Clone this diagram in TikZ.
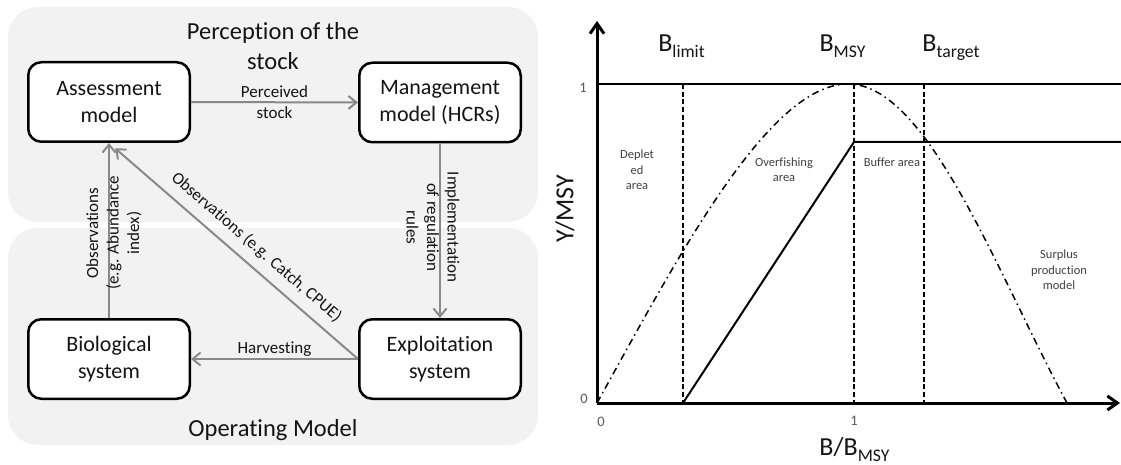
\documentclass[tikz,border=0pt]{standalone}
\usepackage{fontspec}
\setmainfont{Carlito}[Ligatures={NoCommon}]
\usetikzlibrary{arrows.meta,calc}
\definecolor{panel}{RGB}{242,242,242}
\definecolor{arrowgray}{RGB}{137,137,137}
\definecolor{ticktext}{RGB}{89,89,89}
\definecolor{areatext}{RGB}{64,64,64}
\definecolor{maintext}{RGB}{20,20,20}
\newcommand{\lowsub}[1]{\raisebox{-6pt}{\fontsize{17.7}{17.7}\selectfont #1}}
\begin{document}
\begin{tikzpicture}[x=1pt,y=-1pt,
  container/.style={fill=panel, draw=none, rounded corners=30pt, minimum width=530pt, inner sep=0pt},
  paneltitle/.style={align=center, text=maintext, inner sep=0pt, font=\fontsize{24.5}{29.5}\selectfont},
  block/.style={draw=black, line width=2.5pt, fill=white, rounded corners=13pt, minimum width=161.5pt, minimum height=79.5pt, align=center, text=maintext, inner sep=0pt, font=\fontsize{22}{26.8}\selectfont},
  flow/.style={draw=arrowgray, line width=2pt, -{Straight Barb[length=8pt,width=13pt]}},
  lbl/.style={align=center, text=maintext, inner sep=0pt, font=\fontsize{17}{20.5}\selectfont},
  axis/.style={line width=3pt, -{Straight Barb[length=10pt,width=14pt]}},
  refline/.style={line width=2.3pt},
  hcr/.style={line width=2pt},
  vdash/.style={line width=2pt, dash pattern=on 5pt off 2.7pt},
  curve/.style={line width=1.5pt, dash pattern=on 7pt off 4pt on 1.5pt off 4pt},
  big/.style={text=maintext, inner sep=0pt, font=\fontsize{26}{30}\selectfont},
  tick/.style={text=ticktext, inner sep=0pt, font=\fontsize{14.5}{17}\selectfont},
  area/.style={align=center, text=areatext, inner sep=0pt, font=\fontsize{12.5}{15.5}\selectfont}
]
\useasboundingbox (0,0) rectangle (1121,465);

% ---------- left panel ----------
\node[container, minimum height=215pt] (perc) at (273,114.5) {};
\node[container, minimum height=217pt] (oper) at (273,336.5) {};
\node[paneltitle] (perctitle) at (273,46) {Perception of the\\stock};
\node[paneltitle] (opertitle) at (273,430) {Operating Model};

\node[block] (assess) at (109,102) {Assessment\\model};
\node[block] (manage) at (440,102.5) {Management\\model (HCRs)};
\node[block] (bio) at (109,359) {Biological\\system};
\node[block] (explo) at (440,359) {Exploitation\\system};

\draw[flow] (assess.east) -- node[lbl] (perclab) {Perceived\\stock} (manage.west);
\draw[flow] (manage.south) -- (explo.north);
\node[lbl, rotate=-90] (implab) at ($(manage.south)!0.5!(explo.north)+(-7,-3.5)$) {Implementation\\of regulation\\rules};
\draw[flow] (bio.north) -- (assess.south);
\node[lbl, rotate=90] (obslab) at ($(bio.north)!0.5!(assess.south)+(5,2.5)$) {Observations\\(e.g. Abundance\\index)};
\draw[flow, shorten >=8pt] (explo.west) -- (assess.south);
\path (assess.south) -- node[lbl, sloped, pos=0.545, anchor=south, inner sep=10pt] (diaglab) {Observations (e.g. Catch, CPUE)} (explo.west);
\draw[flow] (explo.west) -- node[lbl, anchor=south, inner sep=1.5pt] (harvlab) {Harvesting} (bio.east);

% ---------- right panel ----------
\draw[refline] (597,84) -- (1121,84);
\draw[curve] (597,403) .. controls (677,259) and (768,84) .. (848,84)
             .. controls (928,84) and (997,273.5) .. (1067,403);
\draw[vdash] (683,84) -- (683,403);
\draw[vdash] (854,84) -- (854,403);
\draw[vdash] (924,84) -- (924,403);
\draw[hcr] (683,403) -- (854,142) -- (1121,142);
\draw[axis] (597,403) -- (597,21);
\draw[axis] (597,403) -- (1120,403);

\node[big, anchor=base] (blimit) at (681.5,52) {B\lowsub{limit}};
\node[big, anchor=base] (bmsy) at (842.5,52) {B\lowsub{MSY}};
\node[big, anchor=base] (btarget) at (951,52) {B\lowsub{target}};
\node[big, anchor=base] (xlab) at (854.5,455) {B/B\lowsub{MSY}};
\node[big, rotate=90] (ylab) at (565,209) {Y/MSY};

\node[tick] (y1) at (583,88) {1};
\node[tick] (y0) at (584,399) {0};
\node[tick] (x0) at (601,422) {0};
\node[tick] (x1) at (854,421) {1};

\node[area] (depl) at (637,170) {Deplet\\ed\\area};
\node[area] (overf) at (784,169.5) {Overfishing\\area};
\node[area] (buff) at (892,162) {Buffer area};
\node[area] (surp) at (1059,270) {Surplus\\production\\model};
\end{tikzpicture}
\end{document}
